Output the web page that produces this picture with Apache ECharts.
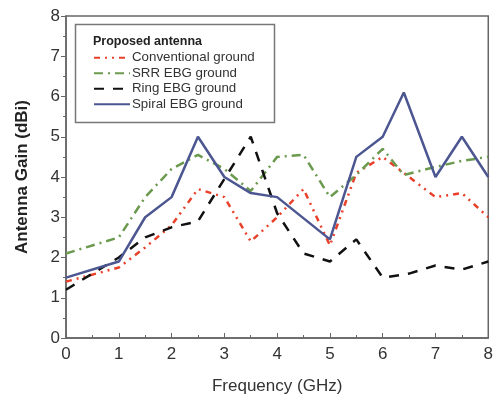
<!DOCTYPE html>
<html><head><meta charset="utf-8">
<script src="https://cdn.jsdelivr.net/npm/echarts@6/dist/echarts.min.js"></script>
<style>html,body{margin:0;padding:0;background:#fff}#c{width:496px;height:404px}</style>
</head><body><div id="c"></div>
<script>
const freqConv = [0, 1, 1.5, 2, 2.5, 3, 3.5, 4, 4.5, 5, 5.5, 6, 6.5, 7, 7.5, 8];
const gainConv = [1.4, 1.75, 2.25, 2.8, 3.7, 3.5, 2.4, 3.0, 3.7, 2.3, 4.1, 4.5, 4.0, 3.5, 3.6, 3.0];
const freqSRR = [0, 1, 1.5, 2, 2.5, 3, 3.5, 4, 4.5, 5, 5.5, 6, 6.4, 7, 7.5, 8];
const gainSRR = [2.1, 2.5, 3.5, 4.2, 4.55, 4.2, 3.65, 4.5, 4.55, 3.5, 4.05, 4.7, 4.05, 4.25, 4.4, 4.5];
const freqRing = [0, 1, 1.5, 2, 2.5, 3.5, 4, 4.5, 5, 5.5, 6, 6.5, 7, 7.5, 8];
const gainRing = [1.2, 2.0, 2.5, 2.75, 2.9, 5.0, 3.1, 2.1, 1.9, 2.45, 1.5, 1.6, 1.8, 1.7, 1.9];
const freqSpiral = [0, 1, 1.5, 2, 2.5, 3, 3.5, 4, 5, 5.5, 6, 6.4, 7, 7.5, 8];
const gainSpiral = [1.5, 1.9, 3.0, 3.5, 5.0, 4.0, 3.6, 3.5, 2.45, 4.5, 5.0, 6.1, 4.0, 5.0, 4.0];
const seriesNames = ['Conventional ground', 'SRR EBG ground', 'Ring EBG ground', 'Spiral EBG ground'];
const xTicks = [0, 1, 2, 3, 4, 5, 6, 7, 8];

const pair = (xs, ys) => xs.map((x, i) => [x, ys[i]]);
const chart = echarts.init(document.getElementById('c'), null, {renderer: 'canvas'});
const font = 'Liberation Sans, Arial, sans-serif';
const mk = (name, data, color, type, width) => ({
  name, type: 'line', data, symbol: 'none', showSymbol: false,
  lineStyle: {color, width, type}, itemStyle: {color}, z: 3
});
chart.setOption({
  animation: false,
  grid: {left: 66, right: 6, top: 16, bottom: 66, show: true, borderColor: '#666', borderWidth: 1.5},
  legend: {
    orient: 'vertical', left: 88, top: 46, itemWidth: 36, itemHeight: 10, itemGap: 2,
    data: seriesNames,
    itemStyle: {opacity: 0},
    textStyle: {fontFamily: font, fontSize: 13.3, lineHeight: 13.5, color: '#333', padding: [0, 0, 0, -3]}
  },
  graphic: [
    {type: 'rect', left: 73, top: 22, shape: {width: 199, height: 98}, style: {fill: 'none', stroke: '#777', lineWidth: 1.5}, z: 10},
    {type: 'text', left: 93, top: 35, style: {text: 'Proposed antenna', font: 'bold 12.5px ' + font, fill: '#222'}, z: 10}
  ],
  xAxis: {
    type: 'value', min: 0, max: 8, interval: 1,
    name: 'Frequency (GHz)', nameLocation: 'middle', nameGap: 40,
    nameTextStyle: {fontFamily: font, fontSize: 17, color: '#333'},
    axisLine: {show: true, onZero: false, lineStyle: {color: '#666', width: 1.5}},
    axisTick: {show: true, inside: true, length: 5, lineStyle: {color: '#666'}},
    minorTick: {show: true, splitNumber: 2, length: 3, lineStyle: {color: '#666'}},
    splitLine: {show: false},
    axisLabel: {fontFamily: font, fontSize: 17, color: '#333', margin: 8,
      formatter: v => xTicks.includes(v) ? String(v) : ''}
  },
  yAxis: {
    type: 'value', min: 0, max: 8, interval: 1,
    name: 'Antenna Gain (dBi)', nameLocation: 'middle', nameGap: 35, nameRotate: 90,
    nameTextStyle: {fontFamily: font, fontSize: 17, fontWeight: 'bold', color: '#222'},
    axisLine: {show: true, onZero: false, lineStyle: {color: '#666', width: 1.5}},
    axisTick: {show: true, inside: false, length: 5, lineStyle: {color: '#666'}},
    minorTick: {show: true, splitNumber: 2, length: 3, lineStyle: {color: '#666'}},
    splitLine: {show: false},
    axisLabel: {fontFamily: font, fontSize: 17, color: '#333', margin: 6}
  },
  series: [
    mk(seriesNames[0], pair(freqConv, gainConv), '#e8402a', [6, 5, 2, 5, 2, 5], 2.5),
    mk(seriesNames[1], pair(freqSRR, gainSRR), '#6b9a4e', [9, 5, 2, 5], 2.5),
    mk(seriesNames[2], pair(freqRing, gainRing), '#111111', [10, 9], 2.5),
    mk(seriesNames[3], pair(freqSpiral, gainSpiral), '#4c5690', 'solid', 2.5)
  ]
});
</script></body></html>
